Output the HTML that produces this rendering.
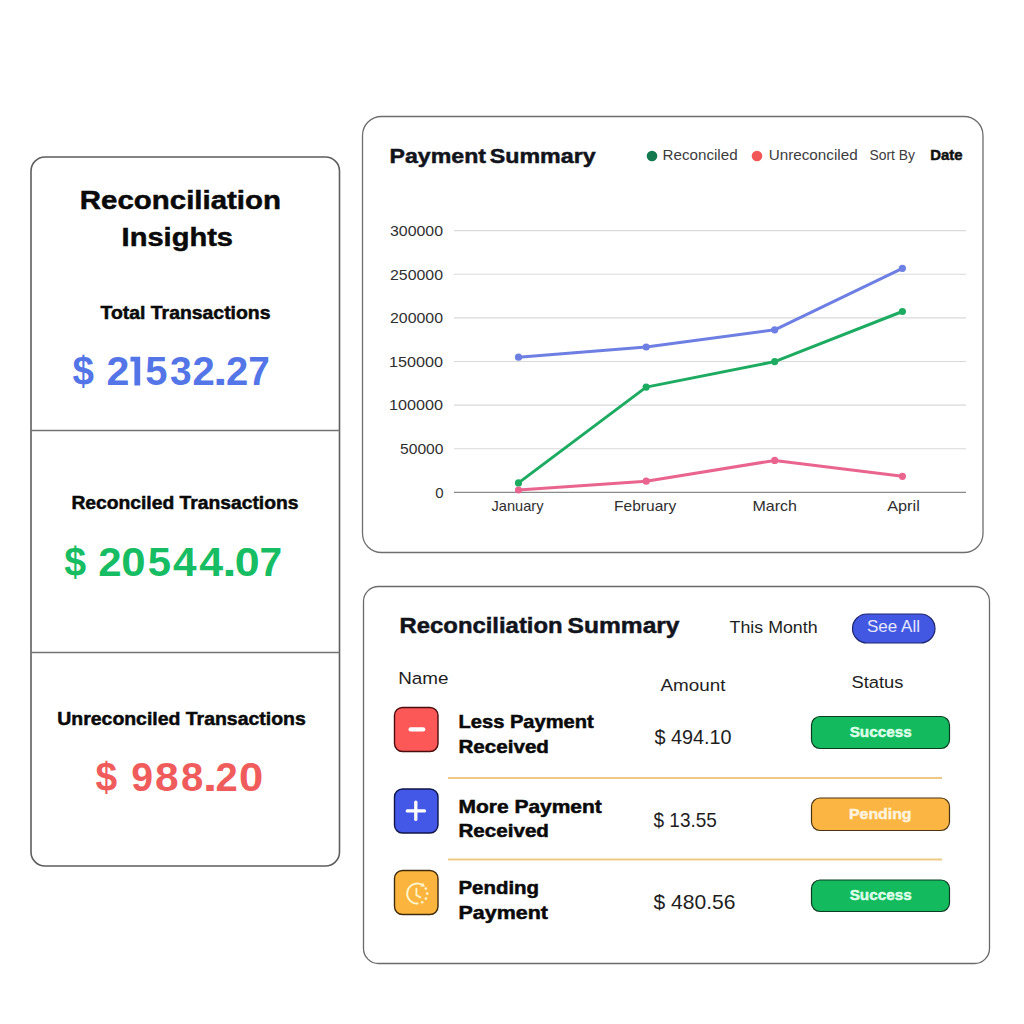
<!DOCTYPE html>
<html><head><meta charset="utf-8">
<style>
html,body{margin:0;padding:0;background:#fff;width:1024px;height:1024px;overflow:hidden}
svg{display:block}
text{font-family:"Liberation Sans",sans-serif}
.b{font-weight:bold}
.h{stroke-width:0.55px;stroke:currentColor}
</style></head>
<body>
<svg width="1024" height="1024" viewBox="0 0 1024 1024">
<rect x="0" y="0" width="1024" height="1024" fill="#fff"/>

<!-- LEFT CARD -->
<rect x="31" y="157" width="308.5" height="709" rx="14" ry="14" fill="#fff" stroke="#5e5e5e" stroke-width="1.6"/>
<line x1="31" y1="430.5" x2="339.5" y2="430.5" stroke="#747474" stroke-width="1.5"/>
<line x1="31" y1="652.5" x2="339.5" y2="652.5" stroke="#747474" stroke-width="1.5"/>

<text id="t1" class="b" x="79.80" y="208.7" font-size="26.2" fill="#0a0a0a" textLength="201.20" lengthAdjust="spacingAndGlyphs" stroke="#0a0a0a" stroke-width="0.5">Reconciliation</text>
<text id="t2" class="b" x="121.60" y="246" font-size="26.2" fill="#0a0a0a" textLength="111.40" lengthAdjust="spacingAndGlyphs" stroke="#0a0a0a" stroke-width="0.5">Insights</text>
<text id="t3" class="b" x="100.50" y="319.3" font-size="18.3" fill="#0a0a0a" textLength="170.00" lengthAdjust="spacingAndGlyphs" stroke="#0a0a0a" stroke-width="0.5">Total Transactions</text>
<g id="t4" fill="#5475e7" font-weight="bold" font-size="41">
<text transform="matrix(0.9409 0 0 1 72.59 0)" x="0" y="385.40">$</text>
<text transform="matrix(1.0031 0 0 1 106.57 0)" x="0" y="385.40">2</text>
<path d="M 130.50 356.80 L 140.20 356.80 L 140.20 385.40 L 134.40 385.40 L 134.40 361.60 L 130.50 361.60 Z"/>
<text transform="matrix(0.9755 0 0 1 145.37 0)" x="0" y="385.40">5</text>
<text transform="matrix(0.9519 0 0 1 169.90 0)" x="0" y="385.40">3</text>
<text transform="matrix(0.9777 0 0 1 192.61 0)" x="0" y="385.40">2</text>
<text transform="matrix(1.2790 0 0 1 213.04 0)" x="0" y="385.40">.</text>
<text transform="matrix(0.9777 0 0 1 225.91 0)" x="0" y="385.40">2</text>
<text transform="matrix(0.9460 0 0 1 248.23 0)" x="0" y="385.40">7</text>
</g>

<text id="t5" class="b" x="71.40" y="509.2" font-size="18.3" fill="#0a0a0a" textLength="227.10" lengthAdjust="spacingAndGlyphs" stroke="#0a0a0a" stroke-width="0.5">Reconciled Transactions</text>
<g id="t6" fill="#17bd63" font-weight="bold" font-size="41">
<text transform="matrix(0.9594 0 0 1 64.18 0)" x="0" y="576.00">$</text>
<text transform="matrix(1.0233 0 0 1 98.15 0)" x="0" y="576.00">2</text>
<text transform="matrix(1.0667 0 0 1 121.37 0)" x="0" y="576.00">0</text>
<text transform="matrix(1.0196 0 0 1 147.71 0)" x="0" y="576.00">5</text>
<text transform="matrix(1.0336 0 0 1 173.06 0)" x="0" y="576.00">4</text>
<text transform="matrix(1.0473 0 0 1 199.35 0)" x="0" y="576.00">4</text>
<text transform="matrix(1.2617 0 0 1 222.29 0)" x="0" y="576.00">.</text>
<text transform="matrix(1.0924 0 0 1 234.73 0)" x="0" y="576.00">0</text>
<text transform="matrix(0.9928 0 0 1 259.45 0)" x="0" y="576.00">7</text>
</g>

<text id="t7" class="b" x="57.30" y="725.4" font-size="18.3" fill="#0a0a0a" textLength="248.40" lengthAdjust="spacingAndGlyphs" stroke="#0a0a0a" stroke-width="0.5">Unreconciled Transactions</text>
<g id="t8" fill="#f05c5c" font-weight="bold" font-size="41">
<text transform="matrix(0.9501 0 0 1 95.49 0)" x="0" y="791.20">$</text>
<text transform="matrix(0.9567 0 0 1 131.14 0)" x="0" y="791.20">9</text>
<text transform="matrix(1.0376 0 0 1 155.05 0)" x="0" y="791.20">8</text>
<text transform="matrix(0.9783 0 0 1 180.93 0)" x="0" y="791.20">8</text>
<text transform="matrix(1.2790 0 0 1 202.84 0)" x="0" y="791.20">.</text>
<text transform="matrix(0.9777 0 0 1 215.51 0)" x="0" y="791.20">2</text>
<text transform="matrix(1.0616 0 0 1 238.88 0)" x="0" y="791.20">0</text>
</g>

<!-- PAYMENT SUMMARY CARD -->
<rect x="362.5" y="116.5" width="620.5" height="436" rx="19" ry="19" fill="#fff" stroke="#6e6e6e" stroke-width="1.3"/>
<text id="t9" class="b" x="389.50" y="162.7" font-size="20.8" fill="#12141c" textLength="96.50" lengthAdjust="spacingAndGlyphs" stroke="#12141c" stroke-width="0.5">Payment</text>
<text id="t10" class="b" x="489.80" y="162.7" font-size="20.8" fill="#12141c" textLength="105.80" lengthAdjust="spacingAndGlyphs" stroke="#12141c" stroke-width="0.5">Summary</text>

<circle cx="652" cy="156" r="5.3" fill="#137a50"/>
<text id="t11" x="662.50" y="160" font-size="14" fill="#3c3c3c" textLength="75.10" lengthAdjust="spacingAndGlyphs">Reconciled</text>
<circle cx="757" cy="156" r="5.3" fill="#f25757"/>
<text id="t12" x="768.70" y="160" font-size="14" fill="#3c3c3c" textLength="89.00" lengthAdjust="spacingAndGlyphs">Unreconciled</text>
<text id="t13" x="869.5" y="160.4" font-size="14" fill="#3c3c3c" textLength="45.5" lengthAdjust="spacingAndGlyphs">Sort By</text>
<text id="t14" class="b" x="930.20" y="160.4" font-size="14" fill="#111" textLength="32.30" lengthAdjust="spacingAndGlyphs" stroke="#111" stroke-width="0.5">Date</text>

<!-- grid -->
<g stroke="#d9d9d9" stroke-width="1.1">
<line x1="454" y1="230.6" x2="966" y2="230.6"/>
<line x1="454" y1="274.3" x2="966" y2="274.3"/>
<line x1="454" y1="317.9" x2="966" y2="317.9"/>
<line x1="454" y1="361.5" x2="966" y2="361.5"/>
<line x1="454" y1="405.1" x2="966" y2="405.1"/>
<line x1="454" y1="448.7" x2="966" y2="448.7"/>
</g>
<line x1="454" y1="492.3" x2="966" y2="492.3" stroke="#8a8a8a" stroke-width="1.2"/>
<g font-size="15" fill="#2f2f2f" text-anchor="end">
<text id="t15" x="443.00" y="236" textLength="53.00" lengthAdjust="spacingAndGlyphs">300000</text>
<text id="t16" x="443.00" y="279.6" textLength="53.00" lengthAdjust="spacingAndGlyphs">250000</text>
<text id="t17" x="443.00" y="323.2" textLength="53.00" lengthAdjust="spacingAndGlyphs">200000</text>
<text id="t18" x="443.00" y="366.8" textLength="54.00" lengthAdjust="spacingAndGlyphs">150000</text>
<text id="t19" x="443.00" y="410.4" textLength="54.00" lengthAdjust="spacingAndGlyphs">100000</text>
<text id="t20" x="443.5" y="454" textLength="43.5" lengthAdjust="spacingAndGlyphs">50000</text>
<text id="t21" x="443.5" y="497.6">0</text>
</g>
<g font-size="14.5" fill="#2f2f2f">
<text id="t22" x="491.5" y="510.6" textLength="52" lengthAdjust="spacingAndGlyphs">January</text>
<text id="t23" x="614.10" y="510.6" textLength="62.10" lengthAdjust="spacingAndGlyphs">February</text>
<text id="t24" x="752.40" y="510.6" textLength="44.50" lengthAdjust="spacingAndGlyphs">March</text>
<text id="t25" x="887.20" y="510.6" textLength="32.60" lengthAdjust="spacingAndGlyphs">April</text>
</g>

<!-- lines -->
<g fill="none" stroke-width="3" stroke-linejoin="round" stroke-linecap="round">
<polyline points="518.5,357.2 646.2,347 774.7,329.8 902.4,268.3" stroke="#6e7fe3"/>
<polyline points="518.5,482.9 646.2,387.1 774.7,361.6 902.4,311.5" stroke="#1dab62"/>
<polyline points="518.5,490 646.2,481.2 774.7,460.4 902.4,476.3" stroke="#e9648f"/>
</g>
<g fill="#6e7fe3"><circle cx="518.5" cy="357.2" r="3.6"/><circle cx="646.2" cy="347" r="3.6"/><circle cx="774.7" cy="329.8" r="3.6"/><circle cx="902.4" cy="268.3" r="3.6"/></g>
<g fill="#1dab62"><circle cx="518.5" cy="482.9" r="3.6"/><circle cx="646.2" cy="387.1" r="3.6"/><circle cx="774.7" cy="361.6" r="3.6"/><circle cx="902.4" cy="311.5" r="3.6"/></g>
<g fill="#e9648f"><circle cx="518.5" cy="490" r="3.6"/><circle cx="646.2" cy="481.2" r="3.6"/><circle cx="774.7" cy="460.4" r="3.6"/><circle cx="902.4" cy="476.3" r="3.6"/></g>

<!-- RECON SUMMARY CARD -->
<rect x="363.5" y="586.5" width="626" height="377" rx="15" ry="15" fill="#fff" stroke="#6a6a6a" stroke-width="1.3"/>
<text id="t26" class="b" x="399.60" y="632.8" font-size="22.5" fill="#12141c" textLength="163.00" lengthAdjust="spacingAndGlyphs" stroke="#12141c" stroke-width="0.5">Reconciliation</text>
<text id="t27" class="b" x="567.60" y="632.8" font-size="22.5" fill="#12141c" textLength="111.90" lengthAdjust="spacingAndGlyphs" stroke="#12141c" stroke-width="0.5">Summary</text>
<text id="t28" x="729.60" y="633.1" font-size="17.4" fill="#1e1e1e" textLength="88.00" lengthAdjust="spacingAndGlyphs">This Month</text>
<rect x="852.5" y="614" width="82.5" height="29" rx="14.5" ry="14.5" fill="#4358e2" stroke="#1c2570" stroke-width="1.2"/>
<text id="t29" x="867.00" y="632" font-size="16.4" fill="#e3e7ff" textLength="53.00" lengthAdjust="spacingAndGlyphs">See All</text>

<text id="t30" x="398.20" y="683.8" font-size="16.9" fill="#1e1e1e" textLength="50.30" lengthAdjust="spacingAndGlyphs">Name</text>
<text id="t31" x="660.5" y="691.2" font-size="16.9" fill="#1e1e1e" textLength="65" lengthAdjust="spacingAndGlyphs">Amount</text>
<text id="t32" x="851.50" y="687.5" font-size="16.9" fill="#1e1e1e" textLength="52.00" lengthAdjust="spacingAndGlyphs">Status</text>

<!-- row 1 -->
<rect x="394.5" y="707.5" width="43.5" height="44" rx="8" ry="8" fill="#fc5858" stroke="#4a0c0c" stroke-width="1.4"/>
<line x1="410.6" y1="729.4" x2="423.2" y2="729.4" stroke="#fff" stroke-width="4.3" stroke-linecap="round"/>
<text id="t33" class="b" x="458.50" y="727.7" font-size="18.2" fill="#0a0a0a" textLength="135.30" lengthAdjust="spacingAndGlyphs" stroke="#0a0a0a" stroke-width="0.5">Less Payment</text>
<text id="t34" class="b" x="458.50" y="752.7" font-size="18.2" fill="#0a0a0a" textLength="90.40" lengthAdjust="spacingAndGlyphs" stroke="#0a0a0a" stroke-width="0.5">Received</text>
<text id="t35" x="654.50" y="744.4" font-size="19.8" fill="#1e1e1e" textLength="77.10" lengthAdjust="spacingAndGlyphs">$ 494.10</text>
<rect x="811.5" y="716.5" width="138" height="32" rx="8.5" ry="8.5" fill="#14bb5e" stroke="#0c3d22" stroke-width="1.2"/>
<text id="t36" class="b" x="849.70" y="736.7" font-size="15" fill="#dcffe8" textLength="62.00" lengthAdjust="spacingAndGlyphs" stroke="#dcffe8" stroke-width="0.5">Success</text>

<line x1="448" y1="778" x2="942" y2="778" stroke="#efc983" stroke-width="2"/>

<!-- row 2 -->
<rect x="394.5" y="789" width="43.5" height="44" rx="8" ry="8" fill="#4358e6" stroke="#10164a" stroke-width="1.4"/>
<line x1="407.3" y1="810.9" x2="424.5" y2="810.9" stroke="#fff" stroke-width="3.3" stroke-linecap="round"/>
<line x1="415.8" y1="802.2" x2="415.8" y2="819.4" stroke="#fff" stroke-width="3.3" stroke-linecap="round"/>
<text id="t37" class="b" x="458.50" y="812.8" font-size="18.2" fill="#0a0a0a" textLength="143.30" lengthAdjust="spacingAndGlyphs" stroke="#0a0a0a" stroke-width="0.5">More Payment</text>
<text id="t38" class="b" x="458.50" y="837.4" font-size="18.2" fill="#0a0a0a" textLength="90.40" lengthAdjust="spacingAndGlyphs" stroke="#0a0a0a" stroke-width="0.5">Received</text>
<text id="t39" x="653.50" y="826.9" font-size="19.8" fill="#1e1e1e" textLength="63.40" lengthAdjust="spacingAndGlyphs">$ 13.55</text>
<rect x="811.5" y="798" width="138" height="32.5" rx="8.5" ry="8.5" fill="#fbb542" stroke="#4a3510" stroke-width="1.2"/>
<text id="t40" class="b" x="849" y="818.7" font-size="15" fill="#fff3dc" textLength="62.5" lengthAdjust="spacingAndGlyphs" stroke="#fff3dc" stroke-width="0.5">Pending</text>

<line x1="448" y1="859.5" x2="942" y2="859.5" stroke="#efc983" stroke-width="2"/>

<!-- row 3 -->
<rect x="394.5" y="870.5" width="43.5" height="44" rx="8" ry="8" fill="#fbb53f" stroke="#3e2c0c" stroke-width="1.4"/>
<g fill="none" stroke="#fff5c8" stroke-width="2" stroke-linecap="round" stroke-linejoin="round"><path d="M 422.20 884.94 A 10.0 10.0 0 1 0 417.55 903.59"/><path d="M 416.4 888.6 L 416.4 895.2 L 420.4 897.4" stroke-width="1.8"/></g><g fill="#fff5c8"><circle cx="425.86" cy="888.60" r="1.3"/><circle cx="427.20" cy="893.60" r="1.3"/><circle cx="425.86" cy="898.60" r="1.3"/><circle cx="422.20" cy="902.26" r="1.3"/><path d="M 424.83 886.63 L 422.95 882.55 L 420.33 886.57 Z"/></g>
<text id="t41" class="b" x="458.50" y="893.5" font-size="18.2" fill="#0a0a0a" textLength="80.50" lengthAdjust="spacingAndGlyphs" stroke="#0a0a0a" stroke-width="0.5">Pending</text>
<text id="t42" class="b" x="458.50" y="918.6" font-size="18.2" fill="#0a0a0a" textLength="89.40" lengthAdjust="spacingAndGlyphs" stroke="#0a0a0a" stroke-width="0.5">Payment</text>
<text id="t43" x="653.5" y="908.8" font-size="19.8" fill="#1e1e1e" textLength="82" lengthAdjust="spacingAndGlyphs">$ 480.56</text>
<rect x="811.5" y="880" width="138" height="31.5" rx="8.5" ry="8.5" fill="#14bb5e" stroke="#0c3d22" stroke-width="1.2"/>
<text id="t44" class="b" x="849.70" y="900" font-size="15" fill="#dcffe8" textLength="62.00" lengthAdjust="spacingAndGlyphs" stroke="#dcffe8" stroke-width="0.5">Success</text>

</svg>
</body></html>
